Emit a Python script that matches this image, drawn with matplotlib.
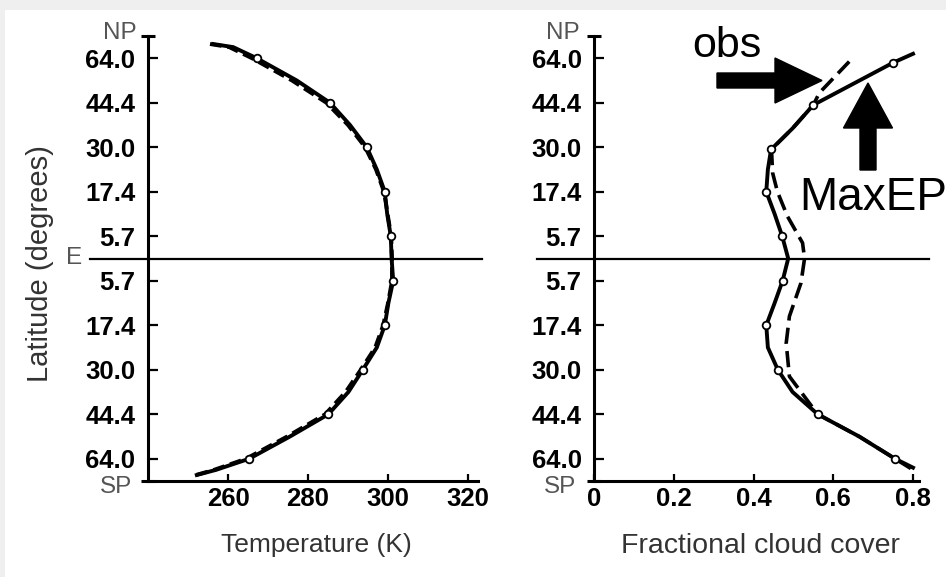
import matplotlib
matplotlib.use("Agg")
import matplotlib.pyplot as plt
from matplotlib.patches import FancyArrow, Rectangle

# latitude axis is sin(latitude)
lat_ticks = [0.9, 0.7, 0.5, 0.3, 0.1, -0.1, -0.3, -0.5, -0.7, -0.9]
lat_labels = ["64.0", "44.4", "30.0", "17.4", "5.7", "5.7", "17.4", "30.0", "44.4", "64.0"]

# temperature panel (MaxEP solid with circles, obs dashed)
temp_lat = [0.964, 0.95, 0.9, 0.8, 0.7, 0.6, 0.5, 0.4, 0.3, 0.2, 0.1, 0.0,
            -0.1, -0.2, -0.3, -0.4, -0.5, -0.6, -0.7, -0.8, -0.9, -0.95, -0.973]
temp_maxep = [256.3, 261.3, 267.2, 277.2, 285.5, 290.5, 294.7, 297.2, 299.2, 299.8, 300.7, 300.9,
              301.3, 300.1, 299.2, 297.2, 293.7, 290.1, 285.1, 275.5, 265.3, 257.0, 252.2]
temp_obs = [255.5, 260.3, 266.0, 276.0, 284.6, 290.0, 294.3, 297.0, 299.0, 299.9, 300.8, 301.0,
            301.0, 300.0, 298.8, 296.8, 293.2, 289.4, 284.3, 274.8, 264.5, 256.5, 252.0]
temp_marks = [2, 4, 6, 8, 10, 12, 14, 16, 18, 20]

# cloud panel
cloud_lat = [0.92, 0.88, 0.69, 0.585, 0.49, 0.4, 0.30, 0.2, 0.10, 0.0,
             -0.10, -0.2, -0.30, -0.4, -0.50, -0.6, -0.70, -0.8, -0.90, -0.94]
cloud_maxep = [0.80, 0.75, 0.55, 0.498, 0.444, 0.436, 0.432, 0.453, 0.472, 0.487,
               0.473, 0.453, 0.432, 0.436, 0.461, 0.498, 0.561, 0.665, 0.755, 0.80]
cloud_marks = [1, 2, 4, 6, 8, 10, 12, 14, 16, 18]
obs_lat = [0.885, 0.744, 0.69, 0.585, 0.49, 0.384, 0.30, 0.19, 0.07, 0.0,
           -0.11, -0.26, -0.38, -0.53, -0.65, -0.70, -0.8, -0.90, -0.95]
cloud_obs = [0.64, 0.565, 0.55, 0.498, 0.445, 0.448, 0.46, 0.485, 0.523, 0.528,
             0.519, 0.49, 0.482, 0.49, 0.54, 0.561, 0.665, 0.755, 0.80]

tick_font = {"family": ["Liberation Sans Narrow", "Liberation Sans", "DejaVu Sans"],
             "weight": "bold", "size": 18.5}
lab_font = ["Liberation Sans", "DejaVu Sans"]

fig = plt.figure(figsize=(9.46, 5.77), dpi=100, facecolor="#efefef")
fig.patches.append(Rectangle((5 / 946, 0), 1, 1 - 10 / 577, transform=fig.transFigure,
                             facecolor="white", edgecolor="none", zorder=-1))

ax1 = fig.add_axes([148 / 946, 1 - 481 / 577, 330 / 946, 445 / 577])
ax2 = fig.add_axes([594 / 946, 1 - 481 / 577, 325 / 946, 445 / 577])

for ax in (ax1, ax2):
    ax.set_facecolor("none")
    ax.set_ylim(-1, 1)
    for s in ("top", "right"):
        ax.spines[s].set_visible(False)
    for s in ("left", "bottom"):
        ax.spines[s].set_linewidth(2.2)
    ax.set_yticks(lat_ticks)
    ax.set_yticklabels(lat_labels, fontdict=tick_font)
    ax.set_yticks([1, -1], minor=True)
    ax.tick_params(axis="y", which="major", direction="in", length=7, width=1.6, pad=9)
    ax.tick_params(axis="y", which="minor", direction="inout", length=10, width=2.2)
    ax.tick_params(axis="x", direction="in", length=5, width=1.6, pad=4)

# left: temperature
ax1.plot(temp_obs, temp_lat, color="black", lw=2.8, ls=(0, (3, 1.5)), zorder=3)
ax1.plot(temp_maxep, temp_lat, color="black", lw=2.8, marker="o", markevery=temp_marks,
         ms=5.5, mfc="white", mec="black", mew=1.3, zorder=4)
ax1.set_xlim(240, 322.5)
ax1.set_xticks([260, 280, 300, 320])
ax1.set_xticklabels(["260", "280", "300", "320"], fontdict=tick_font)
ax1.axhline(0, xmin=-0.176, xmax=1.012, color="black", lw=1.6, clip_on=False, zorder=2)

# right: cloud cover
ax2.plot(cloud_obs, obs_lat, color="black", lw=2.6, ls=(0, (4.5, 2)), zorder=3)
ax2.plot(cloud_maxep, cloud_lat, color="black", lw=2.8, marker="o", markevery=cloud_marks,
         ms=5.5, mfc="white", mec="black", mew=1.3, zorder=4)
ax2.set_xlim(0, 0.815)
ax2.set_xticks([0, 0.2, 0.4, 0.6, 0.8])
ax2.set_xticklabels(["0", "0.2", "0.4", "0.6", "0.8"], fontdict=tick_font)
ax2.axhline(0, xmin=-0.175, xmax=1.031, color="black", lw=1.6, clip_on=False, zorder=2)

# pole / equator labels
gray = "#555555"
ax1.text(-0.033, 1.013, "NP", transform=ax1.get_yaxis_transform(), ha="right", va="center",
         fontsize=17.5, color=gray, family=lab_font)
ax1.text(-0.048, -1.025, "SP", transform=ax1.get_yaxis_transform(), ha="right", va="center",
         fontsize=17.5, color=gray, family=lab_font)
ax1.text(-0.2, 0, "E", transform=ax1.get_yaxis_transform(), ha="right", va="center",
         fontsize=17.5, color=gray, family=lab_font)
ax2.text(-0.043, 1.013, "NP", transform=ax2.get_yaxis_transform(), ha="right", va="center",
         fontsize=17.5, color=gray, family=lab_font)
ax2.text(-0.055, -1.025, "SP", transform=ax2.get_yaxis_transform(), ha="right", va="center",
         fontsize=17.5, color=gray, family=lab_font)

# axis labels
fig.text(40 / 946, 1 - 264 / 577, "Latitude (degrees)", rotation=90, ha="center", va="center",
         fontsize=21, color="#333333", family=lab_font)
fig.text(316 / 946, 1 - 545 / 577, "Temperature (K)", ha="center", va="center",
         fontsize=19, color="#333333", family=lab_font)
fig.text(760 / 946, 1 - 546 / 577, "Fractional cloud cover", ha="center", va="center",
         fontsize=20.5, color="#333333", family=lab_font)

# annotations
fig.text(692 / 946, 1 - 57 / 577, "obs", ha="left", va="baseline", fontsize=31,
         color="black", family=lab_font)
fig.text(799 / 946, 1 - 210 / 577, "MaxEP", ha="left", va="baseline", fontsize=33,
         color="black", family=lab_font)
fig.patches.append(FancyArrow(7.17, (577 - 80.5) / 100, 1.05, 0, width=0.15, head_width=0.45,
                              head_length=0.47, length_includes_head=True,
                              transform=fig.dpi_scale_trans, color="black", zorder=5))
fig.patches.append(FancyArrow(8.68, (577 - 170) / 100, 0, 0.87, width=0.16, head_width=0.49,
                              head_length=0.45, length_includes_head=True,
                              transform=fig.dpi_scale_trans, color="black", zorder=5))

fig.savefig("out.png", dpi=100, facecolor=fig.get_facecolor())
